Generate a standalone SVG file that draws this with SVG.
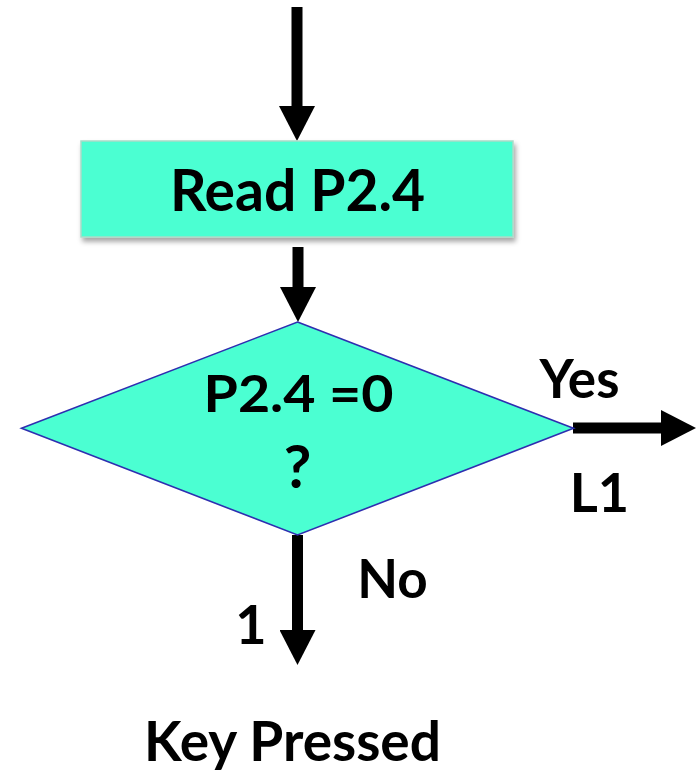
<svg xmlns="http://www.w3.org/2000/svg" width="700" height="775" viewBox="0 0 700 775">
  <style>
    .lbl { font-family: Lato, "Liberation Sans", sans-serif; font-weight: 700; fill: #000; text-anchor: middle; }
    .shaft { stroke: #000; stroke-width: 11; fill: none; }
  </style>
  <defs>
    <marker id="head" markerUnits="userSpaceOnUse" markerWidth="36" markerHeight="36" refX="1" refY="18" orient="auto">
      <path d="M0,0 L35,18 L0,36 Z" fill="#000"/>
    </marker>
    <filter id="shadow" x="-10%" y="-20%" width="120%" height="150%">
      <feDropShadow dx="2" dy="4" stdDeviation="2.5" flood-color="#000" flood-opacity="0.35"/>
    </filter>
  </defs>
  <rect width="700" height="775" fill="#fff"/>

  <g id="connectors">
    <line class="shaft" x1="297" y1="7" x2="297" y2="107" marker-end="url(#head)"/>
    <line class="shaft" x1="298" y1="247" x2="298" y2="288" marker-end="url(#head)"/>
    <line class="shaft" x1="573" y1="428" x2="662" y2="428" marker-end="url(#head)"/>
    <line class="shaft" x1="297.5" y1="535" x2="297.5" y2="631" marker-end="url(#head)"/>
  </g>

  <g id="read">
    <rect x="81" y="141" width="432" height="96" fill="#4BFFD2" stroke="#A9DCC8" stroke-width="1.5" filter="url(#shadow)"/>
    <text class="lbl" x="297.5" y="211" font-size="57">Read P2.4</text>
  </g>

  <g id="decision">
    <polygon points="297.5,322 573.5,428.3 297.5,535 21.5,428.3" fill="#4BFFD2" stroke="#2E2EB0" stroke-width="1.6" stroke-linejoin="miter"/>
    <text class="lbl" x="298.5" y="412" font-size="52" textLength="190" lengthAdjust="spacingAndGlyphs">P2.4 =0</text>
    <text class="lbl" x="297.5" y="488" font-size="60">?</text>
  </g>

  <g id="labels">
    <text class="lbl" x="579.5" y="398" font-size="53">Yes</text>
    <text class="lbl" x="599.5" y="512" font-size="54">L1</text>
    <text class="lbl" x="392.5" y="598" font-size="53">No</text>
    <text class="lbl" x="251" y="644" font-size="54">1</text>
  </g>

  <g id="keypressed">
    <text class="lbl" x="292.5" y="761" font-size="55">Key Pressed</text>
  </g>
</svg>
